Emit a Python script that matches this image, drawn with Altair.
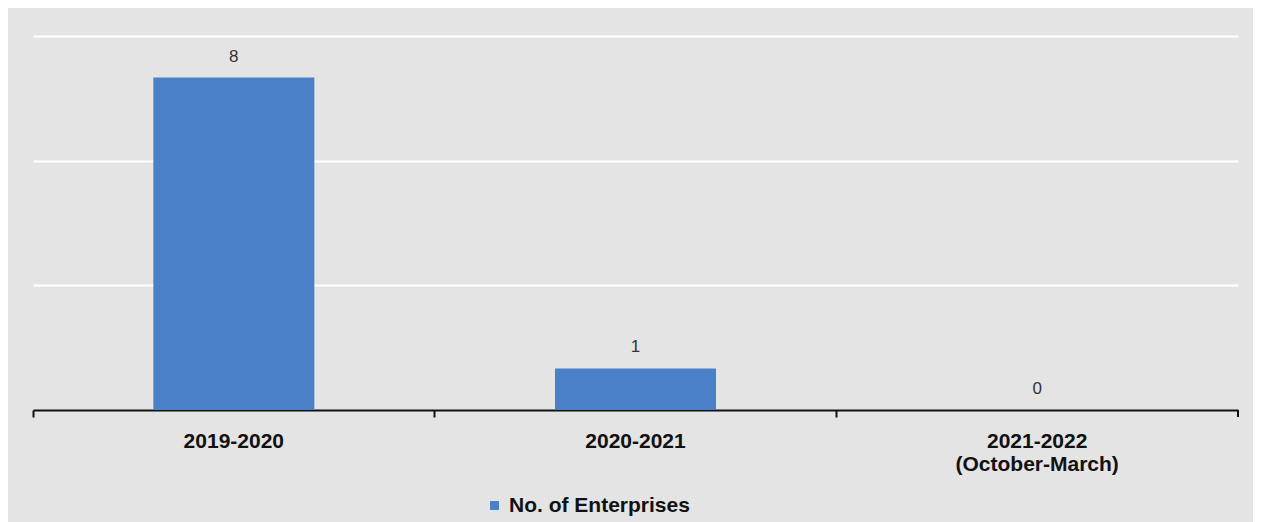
import altair as alt
import pandas as pd

periods = ["2019-2020", "2020-2021", "2021-2022 (October-March)"]
values = [8, 1, 0]
series = ["No. of Enterprises"] * 3

df = pd.DataFrame({"period": periods, "value": values, "series": series})

label_expr = "datum.value == '2021-2022 (October-March)' ? ['2021-2022', '(October-March)'] : datum.value"

x = alt.X("period:N", sort=periods, title=None,
          scale=alt.Scale(paddingInner=0, paddingOuter=0),
          axis=alt.Axis(labelAngle=0, labelFont="Liberation Sans", labelFontWeight="bold",
                        labelFontSize=21, labelColor="#111", labelPadding=13,
                        labelExpr=label_expr, labelLineHeight=23, labelLimit=0,
                        domainColor="#111", domainWidth=2, tickColor="#111",
                        tickWidth=2, tickSize=7, bandPosition=0, grid=False))

y = alt.Y("value:Q", title=None,
          scale=alt.Scale(domain=[0, 9], nice=False),
          axis=alt.Axis(values=[3, 6, 9], labels=False, ticks=False, domain=False,
                        grid=True, gridColor="#ffffff", gridWidth=2))

bars = alt.Chart(df).mark_bar(width=161, color="#4a80c8").encode(
    x=x, y=y,
    color=alt.Color("series:N", scale=alt.Scale(range=["#4a80c8"]),
                    legend=alt.Legend(title=None, orient="none", legendX=451, legendY=459,
                                      symbolType="square", symbolSize=80, labelLimit=0,
                                      labelFont="Liberation Sans", labelFontWeight="bold",
                                      labelFontSize=21, labelColor="#111")),
)

text = alt.Chart(df).mark_text(dy=-12, baseline="bottom", font="Liberation Sans",
                               fontSize=17, color="#333").encode(
    x=alt.X("period:N", sort=periods), y="value:Q", text="value:Q")

end_tick = alt.Chart(df).mark_rule(color="#111", strokeWidth=2).encode(
    x=alt.value(1205), y=alt.value(374), y2=alt.value(381))

chart = (bars + text + end_tick).properties(
    width=1205, height=374,
    background="#e4e4e4",
    padding={"left": 25, "top": 28, "right": 15, "bottom": 112},
    autosize=alt.AutoSizeParams(type="none"),
).configure_view(stroke=None, fill="#e4e4e4")

chart.save("out.html", embed_options={"renderer": "svg", "actions": False})
